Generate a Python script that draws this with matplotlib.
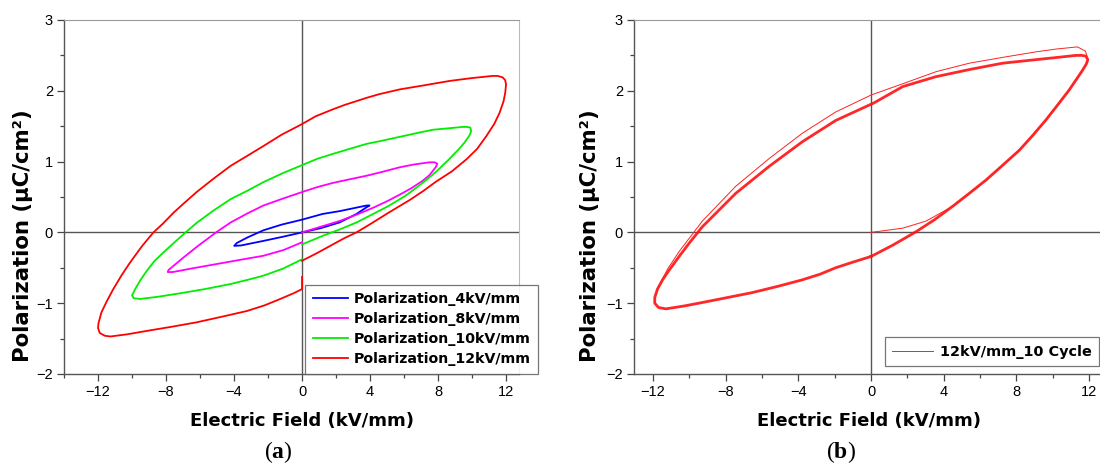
import matplotlib
matplotlib.use("Agg")
import matplotlib.pyplot as plt
from matplotlib.ticker import MultipleLocator

plt.rcParams['font.family'] = ['Liberation Sans', 'DejaVu Sans']
plt.rcParams['mathtext.fontset'] = 'custom'
plt.rcParams['mathtext.rm'] = 'Liberation Serif'
plt.rcParams['mathtext.bf'] = 'Liberation Serif:bold'

# (a) P-E loops at different field amplitudes
e_4kv = [0, 1.1, 2.2, 3.2, 3.7, 3.97, 3.8, 3.0, 2.2, 1.2, 0, -1.2, -2.27, -3.2, -3.84, -3.99,
         -3.6, -2.27, -1.1, 0]
p_4kv = [0, 0.06, 0.14, 0.26, 0.34, 0.38, 0.38, 0.34, 0.30, 0.26, 0.18, 0.11, 0.03, -0.07, -0.15, -0.19,
         -0.185, -0.12, -0.06, 0]

e_8kv = [0, 1.1, 2.2, 3.2, 4.2, 5.0, 5.72, 6.4, 7.1, 7.5, 7.86, 7.95, 7.8, 7.5, 6.6, 5.75, 4.8,
         3.79, 2.8, 1.83, 0.9, 0, -1.1, -2.27, -3.2, -4.2, -5.0, -6.17, -7.0, -7.5, -7.85, -7.9,
         -7.6, -6.5, -5.1, -3.7, -2.27, -1.1, 0]
p_8kv = [0, 0.08, 0.16, 0.25, 0.35, 0.44, 0.53, 0.62, 0.73, 0.81, 0.92, 0.97, 0.99, 0.99, 0.96, 0.92, 0.86,
         0.80, 0.75, 0.70, 0.64, 0.57, 0.48, 0.38, 0.27, 0.14, 0.01, -0.20, -0.36, -0.46, -0.53, -0.56,
         -0.56, -0.51, -0.45, -0.39, -0.33, -0.25, -0.14]

e_10kv = [0, 1.2, 2.2, 3.2, 4.1, 5.1, 6.1, 7.1, 7.9, 8.68, 9.2, 9.56, 9.85, 9.95, 9.9, 9.7, 9.46,
          8.6, 7.7, 6.7, 5.75, 4.8, 3.79, 2.8, 1.83, 0.9, 0, -1.1, -2.27, -3.2, -4.2, -5.2, -6.17,
          -6.85, -7.5, -8.14, -8.7, -9.12, -9.5, -9.81, -10.0, -9.9, -9.52, -8.5, -7.17, -5.7,
          -4.22, -3.2, -2.26, -1.1, 0]
p_10kv = [-0.17, -0.05, 0.04, 0.14, 0.25, 0.375, 0.52, 0.70, 0.86, 1.04, 1.17, 1.27, 1.37, 1.43, 1.48, 1.49, 1.49,
          1.47, 1.45, 1.40, 1.35, 1.30, 1.25, 1.18, 1.11, 1.04, 0.95, 0.84, 0.71, 0.59, 0.47, 0.31, 0.14,
          0.0, -0.14, -0.28, -0.41, -0.54, -0.67, -0.80, -0.89, -0.93, -0.94, -0.91, -0.86, -0.80,
          -0.73, -0.67, -0.61, -0.51, -0.38]

e_12kv = [0, 0.9, 1.81, 2.5, 3.2, 4.1, 5.1, 6.35, 7.1, 7.9, 8.8, 9.66, 10.3, 10.84, 11.3, 11.62,
          11.85, 11.95, 12.0, 11.95, 11.8, 11.5, 11.2, 10.0, 8.7, 7.0, 5.75, 4.5, 3.79, 2.5, 1.83,
          0.8, 0, -1.2, -2.27, -3.3, -4.2, -5.2, -6.2, -7.0, -7.55, -8.2, -8.74, -9.4, -10.1, -10.6,
          -11.1, -11.5, -11.8, -11.97, -12.0, -11.9, -11.6, -11.27, -10.3, -9.1, -7.6, -6.2, -4.7,
          -3.24, -2.2, -1.28, -0.5, 0, 0]
p_12kv = [-0.40, -0.29, -0.17, -0.08, 0, 0.13, 0.28, 0.46, 0.58, 0.72, 0.86, 1.03, 1.18, 1.36, 1.53, 1.69,
          1.85, 1.97, 2.09, 2.15, 2.19, 2.21, 2.21, 2.18, 2.14, 2.07, 2.02, 1.95, 1.90, 1.80, 1.74,
          1.64, 1.53, 1.38, 1.22, 1.07, 0.94, 0.76, 0.57, 0.40, 0.28, 0.12, 0, -0.19, -0.42, -0.60,
          -0.80, -0.98, -1.13, -1.28, -1.35, -1.42, -1.46, -1.47, -1.44, -1.39, -1.33, -1.27, -1.19,
          -1.11, -1.03, -0.94, -0.86, -0.80, -0.63]

# (b) 12 kV/mm, 10 cycles: first cycle (outer) and the settled loop
e_first = [0, 1.75, 3.03, 4.5, 5.4, 6.33, 7.25, 8.16, 8.9, 9.63, 10.3, 10.9, 11.35, 11.64, 11.85,
           11.93, 11.8, 11.36, 10.2, 9.08, 7.2, 5.41, 3.58, 1.75, 0, -1.95, -3.78, -5.62, -7.45,
           -9.28, -10.56, -11.2, -11.6, -11.85]
p_first = [0, 0.06, 0.16, 0.37, 0.55, 0.74, 0.95, 1.16, 1.37, 1.59, 1.81, 2.01, 2.18, 2.29, 2.38,
           2.45, 2.56, 2.62, 2.59, 2.55, 2.47, 2.39, 2.27, 2.10, 1.94, 1.70, 1.40, 1.04, 0.65,
           0.16, -0.27, -0.52, -0.72, -0.88]

e_cycle = [0, 1.2, 2.48, 3.5, 4.5, 5.4, 6.33, 7.25, 8.16, 8.9, 9.63, 10.3, 10.9, 11.35, 11.64, 11.85,
           11.93, 11.82, 11.6, 11.27, 10.2, 9.08, 7.24, 5.41, 3.58, 1.75, 0.17, -1.95, -3.78, -5.62,
           -7.45, -9.28, -10.0, -10.56, -11.1, -11.47, -11.75, -11.9, -11.9, -11.7, -11.29, -10.3,
           -9.28, -7.9, -6.53, -5.1, -3.78, -2.8, -1.95, -1.0, 0]
p_cycle = [-0.34, -0.18, 0.01, 0.18, 0.37, 0.55, 0.74, 0.95, 1.16, 1.37, 1.59, 1.81, 2.01, 2.18, 2.29, 2.38,
           2.44, 2.49, 2.50, 2.50, 2.47, 2.44, 2.39, 2.30, 2.20, 2.06, 1.83, 1.58, 1.28, 0.93,
           0.55, 0.08, -0.15, -0.34, -0.53, -0.67, -0.80, -0.92, -1.00, -1.06, -1.08, -1.04,
           -0.99, -0.92, -0.85, -0.76, -0.67, -0.59, -0.50, -0.42, -0.34]

labels_a = ["Polarization_4kV/mm", "Polarization_8kV/mm",
            "Polarization_10kV/mm", "Polarization_12kV/mm"]
colors_a = ["#0000ff", "#ff00ff", "#00ee00", "#ff0000"]

bold_font = ["DejaVu Sans"]

fig = plt.figure(figsize=(11, 4.65), dpi=100)
ax1 = fig.add_axes([0.0582, 0.1957, 0.4136, 0.7613])
ax2 = fig.add_axes([0.5764, 0.1957, 0.4236, 0.7613])


def style_axes(ax, xlim, xlab_x, ylab_x):
    ax.set_xlim(*xlim)
    ax.set_ylim(-2, 3)
    ax.axhline(0, color="#555555", lw=1.0, zorder=1)
    ax.axvline(0, color="#555555", lw=1.0, zorder=1)
    ax.xaxis.set_major_locator(MultipleLocator(4))
    ax.xaxis.set_minor_locator(MultipleLocator(2))
    ax.yaxis.set_major_locator(MultipleLocator(1))
    ax.yaxis.set_minor_locator(MultipleLocator(0.5))
    ax.tick_params(which="both", direction="out", color="#444444", labelsize=10.5,
                   top=False, right=False)
    ax.tick_params(which="major", length=5, width=0.9, pad=3)
    ax.tick_params(which="minor", length=3, width=0.9)
    for side in ("left", "bottom"):
        ax.spines[side].set_color("#555555")
        ax.spines[side].set_linewidth(1.0)
    ax.spines["top"].set_color("#999999")
    ax.spines["right"].set_color("#bbbbbb")
    ax.set_xlabel("Electric Field (kV/mm)", fontsize=13, fontweight="bold", family=bold_font)
    ax.set_ylabel("Polarization (\u00b5C/cm\u00b2)", fontsize=15.3, fontweight="bold", family=bold_font)
    ax.xaxis.set_label_coords(xlab_x, -0.107)
    ax.yaxis.set_label_coords(ylab_x, 0.39)


style_axes(ax1, (-14, 12.76), 0.523, -0.068)
style_axes(ax2, (-13.04, 12.6), 0.505, -0.073)
ax2.spines["right"].set_visible(False)

for e, p, lab, c in zip([e_4kv, e_8kv, e_10kv, e_12kv], [p_4kv, p_8kv, p_10kv, p_12kv],
                        labels_a, colors_a):
    ax1.plot(e, p, color=c, lw=1.3, label=lab, zorder=3)

leg1 = ax1.legend(loc="lower left", bbox_to_anchor=(0.53, 0.0), frameon=True, fancybox=False,
                  edgecolor="#555555", borderaxespad=0, handlelength=2.5, handletextpad=0.35,
                  labelspacing=0.42, borderpad=0.55,
                  prop={"weight": "bold", "size": 10.2, "family": bold_font})
leg1.get_frame().set_linewidth(0.9)

ax2.plot(e_cycle, p_cycle, color="#ff1010", lw=2.0, alpha=0.9, zorder=3)
ax2.plot(e_first, p_first, color="#ff2020", lw=0.7, zorder=3, label="12kV/mm_10 Cycle")

leg2 = ax2.legend(loc="lower left", bbox_to_anchor=(0.539, 0.023), frameon=True, fancybox=False,
                  edgecolor="#555555", borderaxespad=0, handlelength=2.8, handletextpad=0.5,
                  borderpad=0.5, prop={"weight": "bold", "size": 10.4, "family": bold_font})
leg2.get_frame().set_linewidth(0.9)

fig.text(0.2527, 0.028, r"($\mathbf{a}$)", fontsize=17, ha="center", va="center",
         family="Liberation Serif")
fig.text(0.7645, 0.028, r"($\mathbf{b}$)", fontsize=17, ha="center", va="center",
         family="Liberation Serif")

fig.savefig("out.png", dpi=100)
plt.close(fig)
